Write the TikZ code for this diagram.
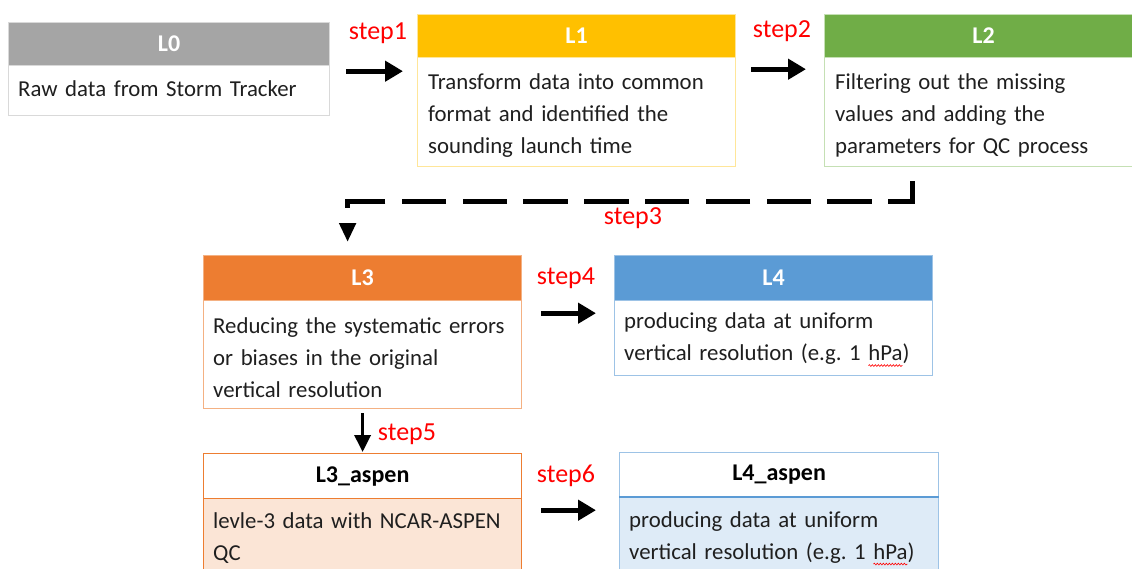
\documentclass[tikz,border=0pt]{standalone}
\usepackage{fontspec}
\setmainfont{Carlito}
\usepackage{xcolor}
\usetikzlibrary{arrows.meta,calc,decorations.pathmorphing}
\definecolor{cGray}{HTML}{A5A5A5}
\definecolor{cGrayL}{HTML}{D9D9D9}
\definecolor{cYel}{HTML}{FFC000}
\definecolor{cYelL}{HTML}{FFE699}
\definecolor{cGrn}{HTML}{70AD47}
\definecolor{cGrnL}{HTML}{C5E0B4}
\definecolor{cOra}{HTML}{ED7D31}
\definecolor{cOraL}{HTML}{F4B183}
\definecolor{cOraF}{HTML}{FBE5D6}
\definecolor{cBlu}{HTML}{5B9BD5}
\definecolor{cBluL}{HTML}{9DC3E6}
\definecolor{cBluF}{HTML}{DEEBF7}
\definecolor{cRed}{HTML}{FF0000}
\newsavebox\wavebox
\newlength\wavewd
\newcommand\spellwave[1]{\sbox\wavebox{#1}\setlength\wavewd{\wd\wavebox}%
  \rlap{\tikz[overlay,x=1pt,y=1pt]{\draw[red, line width=0.6pt, decorate,
    decoration={snake, amplitude=0.9pt, segment length=3pt}] (0pt,-5pt) -- (\wavewd,-5pt);}}#1}
\frenchspacing
\begin{document}
\begin{tikzpicture}[x=1pt,y=-1pt,
  hdr/.style={rectangle, anchor=north west, inner sep=0pt, line width=1.2pt,
    minimum height=43pt, minimum width=318pt, text=white,
    font=\fontsize{24}{28}\selectfont\bfseries},
  bodybox/.style={rectangle, anchor=north west, inner sep=0pt,
    line width=1.2pt, minimum width=318pt},
  btext/.style={anchor=west, inner sep=0pt, text width=330pt, align=left,
    font=\fontsize{22.8}{32}\selectfont\frenchspacing, text=black!88},
  bigarrow/.style={draw=black, line width=5pt, -{Triangle[length=18pt,width=20pt]}},
  midarrow/.style={draw=black, line width=3.5pt, -{Triangle[length=17pt,width=16pt]}},
  steplbl/.style={text=cRed, font=\fontsize{26}{30}\selectfont, inner sep=0pt},
]
\clip (0,0) rectangle (1132,568);
\fill[white] (0,0) rectangle (1132,568);

% L0
\node[hdr, fill=cGray, draw=cGrayL, minimum width=321pt] (L0h) at (8,22) {L0};
\node[bodybox, draw=cGrayL, minimum width=321pt, minimum height=50pt] (L0b) at (8,65) {};
\node[btext] (L0t) at ([xshift=10pt,yshift=2pt]L0b.west) {Raw data from Storm Tracker};
% L1
\node[hdr, fill=cYel, draw=cYelL] (L1h) at (417,14) {L1};
\node[bodybox, draw=cYelL, minimum height=109pt] (L1b) at (417,57) {};
\node[btext] (L1t) at ([xshift=11pt,yshift=-3pt]L1b.west) {Transform data into common\\format and identified the\\sounding launch time};
% L2
\node[hdr, fill=cGrn, draw=cGrnL] (L2h) at (824,14) {L2};
\node[bodybox, draw=cGrnL, minimum height=109pt] (L2b) at (824,57) {};
\node[btext] (L2t) at ([xshift=11pt,yshift=-3pt]L2b.west) {Filtering out the missing\\values and adding the\\parameters for QC process};
% L3
\node[hdr, fill=cOra, draw=cOraL, minimum height=45pt] (L3h) at (203,255) {L3};
\node[bodybox, draw=cOraL, minimum height=108pt] (L3b) at (203,300) {};
\node[btext] (L3t) at ([xshift=10pt,yshift=-3pt]L3b.west) {Reducing the systematic errors\\or biases in the original\\vertical resolution};
% L4
\node[hdr, fill=cBlu, draw=cBluL, minimum height=45pt] (L4h) at (614,255) {L4};
\node[bodybox, draw=cBluL, minimum height=75pt] (L4b) at (614,300) {};
\node[btext] (L4t) at ([xshift=10pt,yshift=-0.5pt]L4b.west) {producing data at uniform\\vertical resolution (e.g. 1 \spellwave{hPa})};
% L3_aspen
\node[hdr, fill=white, draw=cOra, text=black, minimum height=45pt] (L3ah) at (203,453) {L3\_aspen};
\node[bodybox, fill=cOraF, draw=cOra, minimum height=77pt] (L3ab) at (203,498) {};
\node[btext] (L3at) at ([xshift=10pt,yshift=-1pt]L3ab.west) {levle-3 data with NCAR-ASPEN\\QC};
% L4_aspen
\node[hdr, fill=white, draw=cBluL, text=black, minimum width=319pt, minimum height=44pt] (L4ah) at (619,452) {L4\_aspen};
\node[bodybox, fill=cBluF, draw=cBluL, minimum width=319pt, minimum height=79pt] (L4ab) at (619,496) {};
\node[btext] (L4at) at ([xshift=10pt,yshift=-1pt]L4ab.west) {producing data at uniform\\vertical resolution (e.g. 1 \spellwave{hPa})};
\draw[cBlu, line width=1.5pt] (L4ah.south west) -- (L4ah.south east);

% connectors
\draw[bigarrow, shorten <=16pt, shorten >=14pt] ([yshift=-5pt]L0h.south east) -- ([yshift=-5pt]L0h.south east -| L1h.west);
\draw[bigarrow, shorten <=15pt, shorten >=18pt] ([yshift=-11pt]L1h.south east) -- ([yshift=-11pt]L1h.south east -| L2h.west);
\draw[bigarrow, shorten <=19pt, shorten >=18pt] ([yshift=-12pt]L3h.south east) -- ([yshift=-12pt]L3h.south east -| L4h.west);
\draw[bigarrow, shorten <=19pt, shorten >=23pt] ([yshift=-11pt]L3ah.south east) -- ([yshift=-11pt]L3ah.south east -| L4ah.west);
\draw[midarrow, shorten <=4pt, shorten >=1pt] (L3b.south) -- (L3ah.north);
\draw[draw=black, line width=5pt, dash pattern=on 44.4pt off 16.4pt,
  -{Triangle[length=19pt,width=16pt]}, shorten <=14pt, shorten >=13pt]
  ([xshift=-71pt]L2b.south) -- ([xshift=-71pt,yshift=-34pt]L2b.south) -| ([xshift=-15pt]L3h.north);

% step labels
\node[steplbl] (s1) at (378,33) {step1};
\node[steplbl] (s2) at (782,31) {step2};
\node[steplbl] (s3) at (633,218) {step3};
\node[steplbl] (s4) at (566,278) {step4};
\node[steplbl] (s5) at (407,434) {step5};
\node[steplbl] (s6) at (566,476) {step6};
\end{tikzpicture}
\end{document}
